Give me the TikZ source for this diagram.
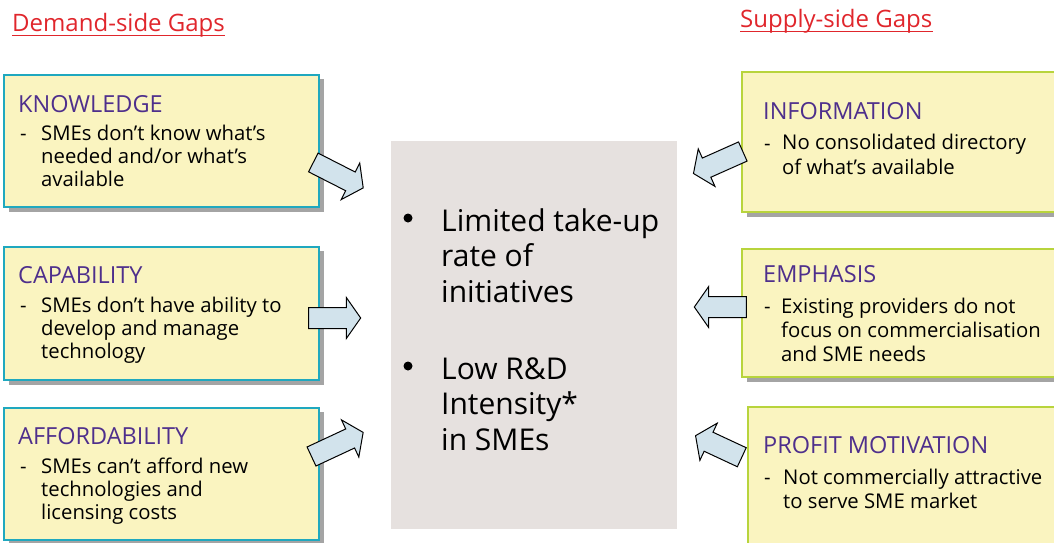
\documentclass[tikz,border=0pt]{standalone}
\usepackage{fontspec}
\setmainfont{Open Sans}
\usetikzlibrary{shapes.arrows}
\definecolor{gapred}{HTML}{E0262C}
\definecolor{boxfill}{HTML}{FAF4C0}
\definecolor{demandedge}{HTML}{1FA8BF}
\definecolor{supplyedge}{HTML}{B8D43C}
\definecolor{shadowgrey}{HTML}{A4A4A4}
\definecolor{headpurple}{HTML}{4E2F8C}
\definecolor{centrefill}{HTML}{E6E1DF}
\definecolor{arrowblue}{HTML}{D2E3EC}
% multi-line nodes are placed by the baseline of their last line
\tikzset{
  gaptitle/.style={inner sep=0pt, anchor=base west, text=gapred, font=\fontsize{24}{28}\selectfont},
  demandbox/.style={draw=demandedge, fill=boxfill, line width=1.5pt},
  supplybox/.style={draw=supplyedge, fill=boxfill, line width=1.5pt},
  boxshadow/.style={fill=shadowgrey, draw=none},
  boxhead/.style={inner sep=0pt, anchor=base west, text=headpurple, font=\fontsize{23.5}{28}\selectfont},
  boxtext/.style={inner sep=0pt, anchor=base west, align=left, text=black, font=\fontsize{20.3}{23}\selectfont},
  boxtextwide/.style={boxtext, font=\fontsize{20.3}{24.3}\selectfont},
  dashmark/.style={inner sep=0pt, anchor=base west, text=black, font=\fontsize{20.3}{23}\selectfont},
  centretext/.style={inner sep=0pt, anchor=base west, align=left, text=black, font=\fontsize{30}{35.5}\selectfont},
  bulletdot/.style={circle, fill=black, draw=none, inner sep=0pt, minimum size=9pt},
  gaparrow/.style={single arrow, draw=black, fill=arrowblue, line width=1pt,
    inner xsep=0pt, inner ysep=10pt, minimum width=40pt,
    single arrow head extend=10pt, single arrow tip angle=110, line join=miter},
}
\begin{document}
\begin{tikzpicture}[x=1pt, y=-1pt]
\useasboundingbox (0,0) rectangle (1054,542);
\begin{scope}
\clip (0,0) rectangle (1054,542);

% section titles
\node[gaptitle] (tdemand) at (12,31) {Demand-side Gaps};
\draw[gapred, line width=1.6pt] ([yshift=-4.5pt]tdemand.base west) -- ([yshift=-4.5pt]tdemand.base east);
\node[gaptitle] (tsupply) at (740,27) {Supply-side Gaps};
\draw[gapred, line width=1.6pt] ([yshift=-4.5pt]tsupply.base west) -- ([yshift=-4.5pt]tsupply.base east);

% centre box
\fill[centrefill] (391,141) rectangle (677,529);
\node[bulletdot] (b1) at (408,218) {};
\node[centretext] (c1) at (441,302) {Limited take-up\\rate of\\initiatives};
\node[bulletdot] (b2) at (408,366) {};
\node[centretext] (c2) at (441,450) {Low R\&D\\Intensity*\\in SMEs};

% demand-side boxes
\fill[boxshadow] (9,79) rectangle (324,212);
\draw[demandbox] (4,75) rectangle (319,207);
\node[boxhead] (k) at (18,112) {KNOWLEDGE};
\node[dashmark] (kd) at (20,140) {-};
\node[boxtext] (kt) at (41,186) {SMEs don’t know what’s\\needed and/or what’s\\available};

\fill[boxshadow] (9,251) rectangle (324,385);
\draw[demandbox] (4,247) rectangle (319,380);
\node[boxhead] (c) at (18,283) {CAPABILITY};
\node[dashmark] (cd) at (20,312) {-};
\node[boxtext] (ct) at (41,358) {SMEs don’t have ability to\\develop and manage\\technology};

\fill[boxshadow] (9,412) rectangle (324,546);
\draw[demandbox] (4,408) rectangle (319,540);
\node[boxhead] (a) at (18,444) {AFFORDABILITY};
\node[dashmark] (ad) at (20,473) {-};
\node[boxtext] (at) at (41,519) {SMEs can’t afford new\\technologies and\\licensing costs};

% supply-side boxes
\fill[boxshadow] (747,77) rectangle (1070,217);
\draw[supplybox] (742,72) rectangle (1070,212);
\node[boxhead] (i) at (763,119) {INFORMATION};
\node[dashmark] (id) at (764,150) {-};
\node[boxtextwide] (it) at (782,174) {No consolidated directory\\of what’s available};

\fill[boxshadow] (747,254) rectangle (1070,382);
\draw[supplybox] (742,249) rectangle (1070,377);
\node[boxhead] (e) at (763,282) {EMPHASIS};
\node[dashmark] (ed) at (764,313) {-};
\node[boxtextwide] (et) at (781,361.6) {Existing providers do not\\focus on commercialisation\\and SME needs};

\fill[boxshadow] (753,412) rectangle (1070,560);
\draw[supplybox] (748,407) rectangle (1070,555);
\node[boxhead] (p) at (763,453) {PROFIT MOTIVATION};
\node[dashmark] (pd) at (764,484) {-};
\node[boxtextwide] (pt) at (783,508.3) {Not commercially attractive\\to serve SME market};

% block arrows pointing at the centre
\node[gaparrow, minimum height=56pt, rotate=-27] (ak) at (335,173.5) {};
\node[gaparrow, minimum height=52pt] (ac) at (331,318) {};
\node[gaparrow, minimum height=57pt, rotate=25] (aa) at (334,446) {};
\node[gaparrow, minimum height=54pt, rotate=204] (ai) at (721.5,161) {};
\node[gaparrow, minimum height=52pt, rotate=180] (ae) at (724,307) {};
\node[gaparrow, minimum height=51pt, rotate=155] (ap) at (722,448) {};
\end{scope}
\end{tikzpicture}
\end{document}
